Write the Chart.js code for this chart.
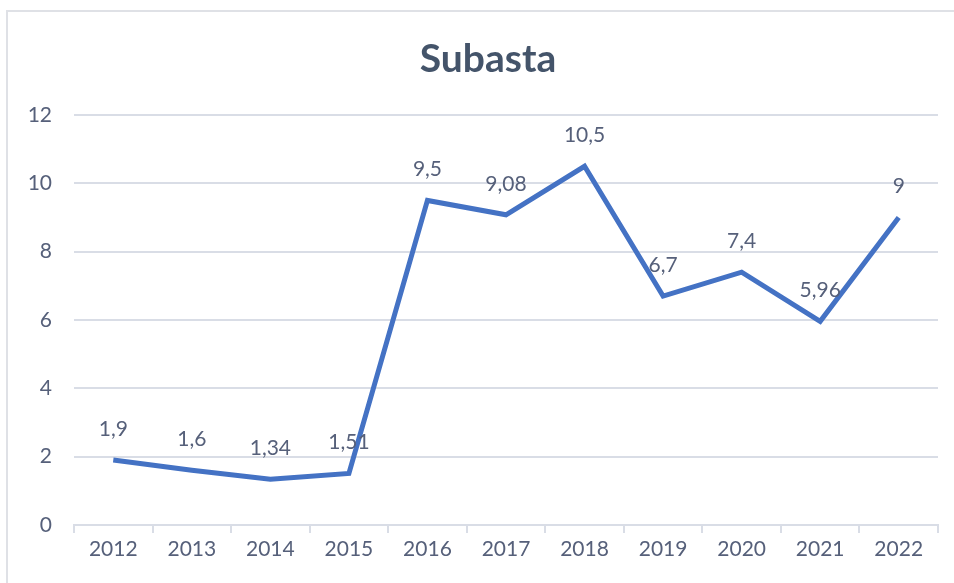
<!DOCTYPE html>
<html>
<head>
<meta charset="utf-8">
<script src="https://cdn.jsdelivr.net/npm/chart.js@4"></script>
<style>
  body { margin: 0; background: #fff; }
  #wrap { position: relative; width: 954px; height: 583px; overflow: hidden; }
  #frame { position: absolute; left: 6px; top: 10px; width: 960px; height: 600px; border: 2px solid #dfe1e6; box-sizing: border-box; }
  canvas { position: absolute; left: 0; top: 0; }
</style>
</head>
<body>
<div id="wrap">
  <div id="frame"></div>
  <canvas id="chart" width="954" height="583"></canvas>
</div>
<script>
const years = ['2012', '2013', '2014', '2015', '2016', '2017', '2018', '2019', '2020', '2021', '2022'];
const subasta = [1.9, 1.6, 1.34, 1.51, 9.5, 9.08, 10.5, 6.7, 7.4, 5.96, 9];
const yTicks = [0, 2, 4, 6, 8, 10, 12];

const FONT = 'Lato, "Noto Sans", sans-serif';
const TEXT = '#56607a';

// title + value labels drawn by hand, Excel style
const decor = {
    id: 'decor',
    afterDatasetsDraw(chart) {
        const ctx = chart.ctx;
        ctx.save();
        ctx.fillStyle = '#44546a';
        ctx.font = 'bold 39px ' + FONT;
        ctx.textAlign = 'center';
        ctx.textBaseline = 'middle';
        ctx.fillText('Subasta', 488, 59);

        ctx.fillStyle = TEXT;
        ctx.font = '21px ' + FONT;
        const meta = chart.getDatasetMeta(0);
        meta.data.forEach((pt, i) => {
            const txt = String(subasta[i]).replace('.', ',');
            ctx.fillText(txt, pt.x, pt.y - 31);
        });
        ctx.restore();
    }
};

new Chart(document.getElementById('chart').getContext('2d'), {
    type: 'line',
    data: {
        labels: years,
        datasets: [{
            label: 'Subasta',
            data: subasta,
            borderColor: '#4472c4',
            borderWidth: 5,
            pointRadius: 0,
            tension: 0,
            fill: false
        }]
    },
    options: {
        responsive: false,
        animation: false,
        layout: { padding: { top: 115, right: 16, left: 0, bottom: 0 } },
        plugins: { legend: { display: false }, title: { display: false }, tooltip: { enabled: false } },
        scales: {
            x: {
                offset: true,
                grid: { offset: true, drawOnChartArea: false, color: '#d9dde6', lineWidth: 2, tickLength: 8 },
                border: { color: '#d9dde6', width: 2 },
                ticks: { color: TEXT, font: { family: FONT, size: 21 }, padding: 4, maxRotation: 0 },
                afterFit: s => { s.height = 58; }
            },
            y: {
                min: 0,
                max: 12,
                afterBuildTicks: s => { s.ticks = yTicks.map(v => ({ value: v })); },
                grid: { color: '#d9dde6', lineWidth: 2, drawTicks: false },
                border: { display: false },
                ticks: { color: TEXT, font: { family: FONT, size: 21 }, padding: 22 },
                afterFit: s => { s.width = 74; }
            }
        }
    },
    plugins: [decor]
});
</script>
</body>
</html>
